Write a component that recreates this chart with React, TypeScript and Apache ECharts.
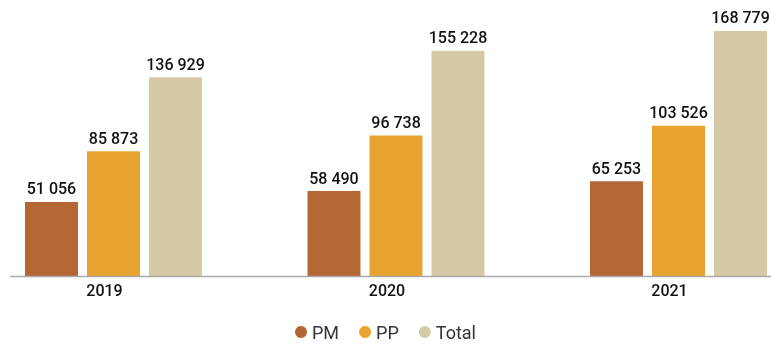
import React, { useEffect, useRef } from "react";
import * as echarts from "echarts";

const categories = ["2019", "2020", "2021"];
const pmValues = [51056, 58490, 65253];
const ppValues = [85873, 96738, 103526];
const totalValues = [136929, 155228, 168779];

const fmt = (v: number) => String(v).replace(/\B(?=(\d{3})+(?!\d))/g, " ");

export default function App() {
  const ref = useRef<HTMLDivElement>(null);
  useEffect(() => {
    const chart = echarts.init(ref.current!, null, { renderer: "svg" });
    const label = {
      show: true,
      position: "top" as const,
      distance: 5,
      color: "#111",
      fontSize: 16,
      fontWeight: 500,
      fontFamily: "Roboto",
      formatter: (p: any) => fmt(p.value),
    };
    chart.setOption({
      animation: false,
      textStyle: { fontFamily: "Roboto" },
      grid: { left: -27.75, right: -48.75, top: 14.7, bottom: 68, outerBoundsMode: "none", containLabel: false },
      xAxis: {
        type: "category",
        data: categories,
        axisLine: { show: false },
        axisTick: { show: false },
        axisLabel: { color: "#111", fontSize: 16, fontWeight: 500, margin: 6, padding: [0, 18, 0, 0], fontFamily: "Roboto" },
      },
      yAxis: { type: "value", min: 0, max: 180000, show: false, splitLine: { show: false } },
      legend: {
        bottom: -2,
        left: "center",
        icon: "circle",
        itemWidth: 12,
        itemHeight: 12,
        itemGap: 20,
        textStyle: { color: "#333", fontSize: 18, fontFamily: "Roboto" },
        data: ["PM", "PP", "Total"],
      },
      graphic: [
        {
          type: "line",
          shape: { x1: 10, y1: 276.5, x2: 771, y2: 276.5 },
          style: { stroke: "#aaaaaa", lineWidth: 1.5 },
          z: 10,
        },
      ],
      series: [
        { name: "PM", type: "bar", data: pmValues, barWidth: 53, barGap: "17%", itemStyle: { color: "#B56635" }, label },
        { name: "PP", type: "bar", data: ppValues, barWidth: 53, barGap: "17%", itemStyle: { color: "#E8A330" }, label },
        { name: "Total", type: "bar", data: totalValues, barWidth: 53, barGap: "17%", itemStyle: { color: "#D6C9A6" }, label },
      ],
    });
    return () => chart.dispose();
  }, []);
  return <div ref={ref} style={{ position: "fixed", left: 0, top: 0, width: 771, height: 344 }} />;
}
